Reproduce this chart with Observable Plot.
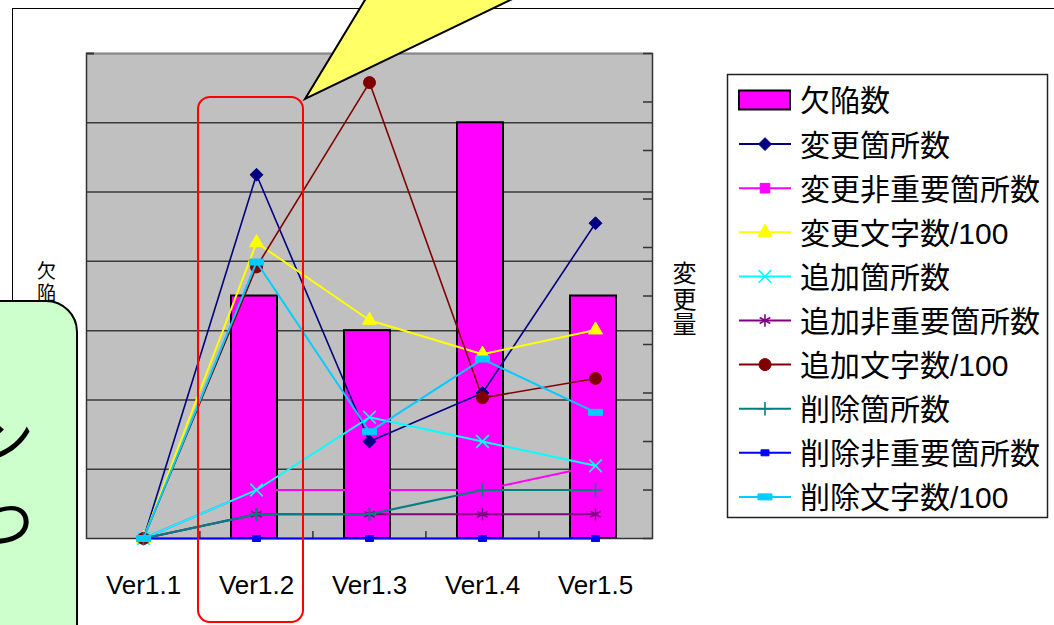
<!DOCTYPE html>
<html><head><meta charset="utf-8">
<script src="https://cdn.jsdelivr.net/npm/d3@7"></script>
<script src="https://cdn.jsdelivr.net/npm/@observablehq/plot@0.6"></script>
<style>
html,body{margin:0;padding:0;background:#fff;overflow:hidden;}
#stage{position:relative;width:1054px;height:625px;overflow:hidden;font-family:"Liberation Sans","Noto Sans CJK JP",sans-serif;}
.layer{position:absolute;left:0;top:0;}
.vtitle{position:absolute;writing-mode:vertical-rl;font-family:"Noto Sans CJK JP",sans-serif;color:#000;}
</style></head><body><div id="stage"></div>
<script>
// ---------- data ----------
const versions = ["Ver1.1", "Ver1.2", "Ver1.3", "Ver1.4", "Ver1.5"];
const defects = [0, 7, 6, 12, 7];                 // 欠陥数 (left axis)
const henkouKasho = [0, 75, 20, 30, 65];          // 変更箇所数
const henkouHijuyo = [0, 10, 10, 10, 15];         // 変更非重要箇所数
const henkouMoji = [0, 61, 45, 38, 43];           // 変更文字数/100
const tsuikaKasho = [0, 10, 25, 20, 15];          // 追加箇所数
const tsuikaHijuyo = [0, 5, 5, 5, 5];             // 追加非重要箇所数
const tsuikaMoji = [0, 56, 94, 29, 33];           // 追加文字数/100
const sakujoKasho = [0, 5, 5, 10, 10];            // 削除箇所数
const sakujoHijuyo = [0, 0, 0, 0, 0];             // 削除非重要箇所数
const sakujoMoji = [0, 57, 22, 37, 26];           // 削除文字数/100
const leftTicks = [0, 2, 4, 6, 8, 10, 12, 14];
const rightTicks = [0, 10, 20, 30, 40, 50, 60, 70, 80, 90, 100];
const barLabel = "欠陥数";
const leftTitle = "欠陥数";
const rightTitle = "変更量";
const noteLines = ["各バージョン", "ひとつ"];

// ---------- styles ----------
function rectSymbol(w, h) {
  return {draw(ctx) { ctx.moveTo(-w/2, -h/2); ctx.lineTo(w/2, -h/2); ctx.lineTo(w/2, h/2); ctx.lineTo(-w/2, h/2); ctx.closePath(); }};
}
const d3Sym = {diamond2: d3.symbolDiamond2, square: d3.symbolSquare, triangle: d3.symbolTriangle, times: d3.symbolTimes,
  asterisk: d3.symbolAsterisk, circle: d3.symbolCircle, plus: d3.symbolPlus};
const series = [
  {name: "変更箇所数", values: henkouKasho, color: "#000080", symbol: "diamond2", r: 5.8, filled: true, lw: 1.6},
  {name: "変更非重要箇所数", values: henkouHijuyo, color: "#FF00FF", symbol: "square", r: 5.4, filled: true, lw: 2},
  {name: "変更文字数/100", values: henkouMoji, color: "#FFFF00", symbol: "triangle", r: 5.2, filled: true, lw: 2},
  {name: "追加箇所数", values: tsuikaKasho, color: "#00FFFF", symbol: "times", r: 5.8, filled: false, lw: 2},
  {name: "追加非重要箇所数", values: tsuikaHijuyo, color: "#800080", symbol: "asterisk", r: 5.8, filled: false, lw: 2},
  {name: "追加文字数/100", values: tsuikaMoji, color: "#800000", symbol: "circle", r: 6, filled: true, lw: 1.6},
  {name: "削除箇所数", values: sakujoKasho, color: "#008080", symbol: "plus", r: 4.4, filled: false, lw: 2.2},
  {name: "削除非重要箇所数", values: sakujoHijuyo, color: "#0000FF", symbol: rectSymbol(8, 6), r: 4, filled: true, lw: 2},
  {name: "削除文字数/100", values: sakujoMoji, color: "#00CCFF", symbol: rectSymbol(14, 6), r: 5, filled: true, lw: 2}
];

const W = 1054, H = 625;
const M = {left: 86, right: 402, top: 53, bottom: 87};
const innerW = W - M.left - M.right, innerH = H - M.top - M.bottom;
const step = innerW / versions.length;
const fontStack = "Liberation Sans, Noto Sans CJK JP, sans-serif";
const stage = document.getElementById("stage");

// outer chart frame
const outer = document.createElement("div");
Object.assign(outer.style, {position: "absolute", left: "12px", top: "8px", width: "1200px", height: "800px", border: "1.5px solid #000", boxSizing: "border-box"});
stage.appendChild(outer);

// ---------- bars layer (left axis) ----------
const barData = versions.map((v, i) => ({version: v, defects: defects[i]}));
const barPlot = Plot.plot({
  width: W, height: H, marginLeft: M.left, marginRight: M.right, marginTop: M.top, marginBottom: M.bottom,
  style: {background: "transparent", fontFamily: fontStack, color: "#000", overflow: "visible"},
  x: {type: "band", domain: versions, paddingInner: 0.594, paddingOuter: 0.297},
  y: {domain: [0, 14], axis: null},
  marks: [
    Plot.frame({fill: "#C0C0C0"}),
    Plot.ruleY(leftTicks.slice(1, -1), {stroke: "#3a3a3a", strokeWidth: 1.5}),
    Plot.barY(barData, {x: "version", y: "defects", fill: "#FF00FF", stroke: "#000", strokeWidth: 2, dx: -2}),
    Plot.frame({stroke: "#333", strokeWidth: 1.5}),
    Plot.ruleY([14], {stroke: "#8a8a8a", strokeWidth: 1.5}),
    Plot.ruleY([14], {stroke: "#333", strokeWidth: 2, insetRight: innerW - 8}),
    Plot.axisX({tickSize: 0, tickPadding: 37, fontSize: 26, label: null})
  ]
});
barPlot.classList.add("layer");
stage.appendChild(barPlot);

// ---------- lines layer (right axis) ----------
const lineMarks = [
  Plot.ruleY(rightTicks, {stroke: "#333", strokeWidth: 1.5, insetLeft: innerW - 9}),
  Plot.ruleX(versions.slice(1), {stroke: "#333", strokeWidth: 1.5, dx: -step / 2, insetTop: innerH - 7})
];
series.forEach(s => {
  const data = versions.map((v, i) => ({version: v, value: s.values[i]}));
  lineMarks.push(Plot.line(data, {x: "version", y: "value", stroke: s.color, strokeWidth: s.lw}));
  lineMarks.push(Plot.dot(data, {x: "version", y: "value", symbol: s.symbol, r: s.r,
    fill: s.filled ? s.color : "none", stroke: s.color, strokeWidth: s.filled ? 1 : 1.6}));
});
const linePlot = Plot.plot({
  width: W, height: H, marginLeft: M.left, marginRight: M.right, marginTop: M.top, marginBottom: M.bottom,
  style: {background: "transparent", fontFamily: fontStack, overflow: "visible"},
  x: {type: "point", domain: versions, padding: 0.5, axis: null},
  y: {domain: [0, 100], axis: null},
  marks: lineMarks
});
linePlot.classList.add("layer");
stage.appendChild(linePlot);

// ---------- axis titles ----------
function vtitle(text, left, top, size, spacing) {
  const d = document.createElement("div");
  d.className = "vtitle";
  d.textContent = text;
  Object.assign(d.style, {left: left + "px", top: top + "px", fontSize: size + "px", letterSpacing: spacing + "px", lineHeight: size + "px"});
  stage.appendChild(d);
}
vtitle(leftTitle, 37, 261, 19, 3);
vtitle(rightTitle, 672, 261, 24, 1.5);

// ---------- legend ----------
const leg = d3.select(stage).append("svg").attr("class", "layer").attr("width", W).attr("height", H)
  .style("font-family", fontStack);
leg.append("rect").attr("x", 727.5).attr("y", 74.5).attr("width", 320).attr("height", 443)
  .attr("fill", "#fff").attr("stroke", "#222").attr("stroke-width", 1.5);
const rowY = i => 100 + i * 44.1;
leg.append("rect").attr("x", 739).attr("y", rowY(0) - 9.5).attr("width", 51).attr("height", 19)
  .attr("fill", "#FF00FF").attr("stroke", "#000").attr("stroke-width", 2);
leg.append("text").attr("x", 800).attr("y", rowY(0)).attr("dy", "0.38em").attr("font-size", 30).text(barLabel);
series.forEach((s, k) => {
  const y = rowY(k + 1);
  leg.append("line").attr("x1", 739).attr("x2", 791).attr("y1", y).attr("y2", y).attr("stroke", s.color).attr("stroke-width", 2);
  const type = typeof s.symbol === "string" ? d3Sym[s.symbol] : s.symbol;
  leg.append("path").attr("transform", `translate(765,${y})`)
    .attr("d", d3.symbol().type(type).size(Math.PI * s.r * s.r)())
    .attr("fill", s.filled ? s.color : "none").attr("stroke", s.color).attr("stroke-width", s.filled ? 1 : 1.6);
  leg.append("text").attr("x", 800).attr("y", y).attr("dy", "0.38em").attr("font-size", 30).text(s.name);
});

// ---------- annotations ----------
const redBox = document.createElement("div");
Object.assign(redBox.style, {position: "absolute", left: "197px", top: "96px", width: "107px", height: "527px",
  border: "2px solid #FF0000", borderRadius: "13px", boxSizing: "border-box"});
stage.appendChild(redBox);

const ann = d3.select(stage).append("svg").attr("class", "layer").attr("width", W).attr("height", H);
ann.append("polygon").attr("points", "305,99 371,-10 531,-10")
  .attr("fill", "#FFFF66").attr("stroke", "#000").attr("stroke-width", 2).attr("stroke-linejoin", "miter");

const green = document.createElement("div");
Object.assign(green.style, {position: "absolute", left: "-300px", top: "300px", width: "378px", height: "500px",
  background: "#CCFFCC", border: "2px solid #000", borderRadius: "32px", boxSizing: "border-box"});
stage.appendChild(green);
noteLines.forEach((line, i) => {
  const note = document.createElement("div");
  Object.assign(note.style, {position: "absolute", left: "-466px", top: (406 + i * 84) + "px", width: "500px", textAlign: "right",
    fontFamily: "Noto Sans CJK JP, sans-serif", fontSize: "58px", lineHeight: "58px", color: "#000", whiteSpace: "nowrap"});
  note.textContent = line;
  stage.appendChild(note);
});
</script>
</body></html>
